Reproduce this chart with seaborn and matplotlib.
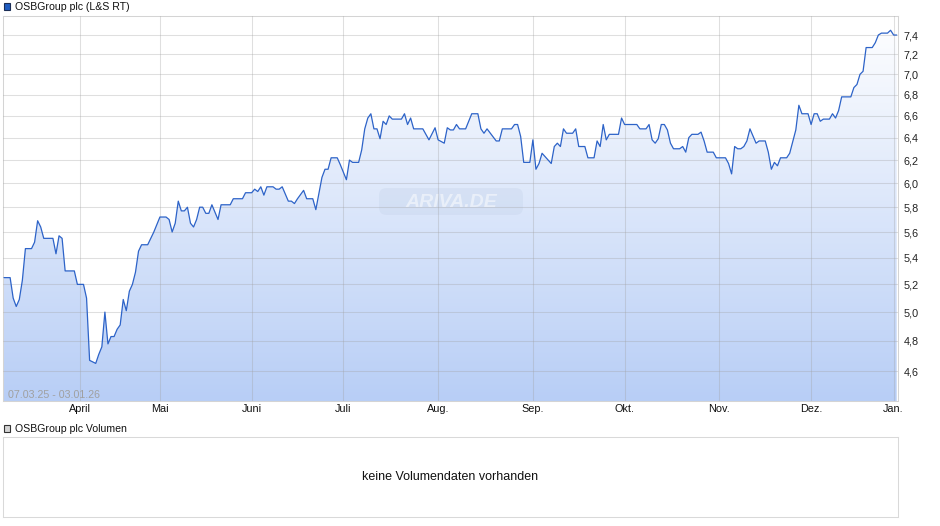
import numpy as np
import pandas as pd
import matplotlib
matplotlib.use('Agg')
import matplotlib.pyplot as plt
from matplotlib.colors import LinearSegmentedColormap
from matplotlib.patches import Rectangle, FancyBboxPatch
from matplotlib.ticker import NullLocator
import seaborn as sns

# Kursverlauf OSBGroup plc (L&S RT)
dates = [
    '2025-03-07', '2025-03-09', '2025-03-10', '2025-03-11', '2025-03-12', '2025-03-13', '2025-03-14',
    '2025-03-16', '2025-03-17', '2025-03-18', '2025-03-19', '2025-03-20', '2025-03-23', '2025-03-24',
    '2025-03-25', '2025-03-26', '2025-03-27', '2025-03-30', '2025-03-31',
    '2025-04-02', '2025-04-03', '2025-04-04', '2025-04-05', '2025-04-06', '2025-04-07', '2025-04-08',
    '2025-04-09', '2025-04-10', '2025-04-11', '2025-04-12', '2025-04-13', '2025-04-14', '2025-04-15',
    '2025-04-16', '2025-04-17', '2025-04-22', '2025-04-23', '2025-04-24', '2025-04-25', '2025-04-27',
    '2025-04-28', '2025-04-29', '2025-04-30',
    '2025-05-02', '2025-05-04', '2025-05-05', '2025-05-06', '2025-05-07', '2025-05-08', '2025-05-09',
    '2025-05-10', '2025-05-11', '2025-05-12', '2025-05-13', '2025-05-14', '2025-05-15', '2025-05-16',
    '2025-05-17', '2025-05-18', '2025-05-19', '2025-05-20', '2025-05-21', '2025-05-22', '2025-05-25',
    '2025-05-26', '2025-05-29', '2025-05-30',
    '2025-06-01', '2025-06-02', '2025-06-03', '2025-06-04', '2025-06-05', '2025-06-06', '2025-06-08',
    '2025-06-09', '2025-06-10', '2025-06-11', '2025-06-13', '2025-06-14', '2025-06-15', '2025-06-16',
    '2025-06-18', '2025-06-19', '2025-06-21', '2025-06-22', '2025-06-24', '2025-06-25', '2025-06-26',
    '2025-06-27', '2025-06-29', '2025-06-30',
    '2025-07-02', '2025-07-03', '2025-07-04', '2025-07-06', '2025-07-07', '2025-07-08', '2025-07-09',
    '2025-07-10', '2025-07-11', '2025-07-12', '2025-07-13', '2025-07-14', '2025-07-15', '2025-07-16',
    '2025-07-17', '2025-07-20', '2025-07-21', '2025-07-22', '2025-07-23', '2025-07-24', '2025-07-27',
    '2025-07-29', '2025-07-31',
    '2025-08-01', '2025-08-03', '2025-08-04', '2025-08-05', '2025-08-06', '2025-08-07', '2025-08-08',
    '2025-08-10', '2025-08-12', '2025-08-14', '2025-08-15', '2025-08-16', '2025-08-17', '2025-08-20',
    '2025-08-21', '2025-08-22', '2025-08-25', '2025-08-26', '2025-08-27', '2025-08-28', '2025-08-29',
    '2025-08-31',
    '2025-09-01', '2025-09-02', '2025-09-03', '2025-09-04', '2025-09-07', '2025-09-08', '2025-09-09',
    '2025-09-10', '2025-09-11', '2025-09-12', '2025-09-14', '2025-09-15', '2025-09-16', '2025-09-18',
    '2025-09-19', '2025-09-21', '2025-09-22', '2025-09-23', '2025-09-24', '2025-09-25', '2025-09-26',
    '2025-09-29', '2025-09-30',
    '2025-10-01', '2025-10-05', '2025-10-06', '2025-10-08', '2025-10-09', '2025-10-10', '2025-10-11',
    '2025-10-12', '2025-10-13', '2025-10-14', '2025-10-15', '2025-10-16', '2025-10-17', '2025-10-19',
    '2025-10-20', '2025-10-21', '2025-10-22', '2025-10-23', '2025-10-25', '2025-10-26', '2025-10-27',
    '2025-10-28', '2025-10-30', '2025-10-31',
    '2025-11-03', '2025-11-04', '2025-11-05', '2025-11-06', '2025-11-07', '2025-11-08', '2025-11-09',
    '2025-11-10', '2025-11-11', '2025-11-13', '2025-11-14', '2025-11-16', '2025-11-17', '2025-11-18',
    '2025-11-19', '2025-11-20', '2025-11-21', '2025-11-23', '2025-11-24', '2025-11-26', '2025-11-27',
    '2025-11-28', '2025-11-30',
    '2025-12-01', '2025-12-02', '2025-12-03', '2025-12-04', '2025-12-05', '2025-12-07', '2025-12-08',
    '2025-12-09', '2025-12-10', '2025-12-11', '2025-12-14', '2025-12-15', '2025-12-16', '2025-12-17',
    '2025-12-18', '2025-12-19', '2025-12-21', '2025-12-22', '2025-12-23', '2025-12-27', '2025-12-29',
    '2025-12-30',
    '2026-01-02', '2026-01-03',
]
prices = [
    5.25, 5.25, 5.10, 5.04, 5.09, 5.23, 5.47,
    5.47, 5.52, 5.69, 5.64, 5.55, 5.55, 5.43,
    5.57, 5.55, 5.30, 5.30, 5.20,
    5.20, 5.10, 4.67, 4.66, 4.65, 4.71, 4.76,
    5.00, 4.78, 4.83, 4.83, 4.88, 4.91, 5.09,
    5.01, 5.15, 5.20, 5.29, 5.45, 5.50, 5.50,
    5.55, 5.60, 5.66,
    5.72, 5.72, 5.70, 5.60, 5.67, 5.85, 5.77,
    5.77, 5.80, 5.67, 5.64, 5.70, 5.80, 5.80,
    5.75, 5.75, 5.82, 5.76, 5.70, 5.82, 5.82,
    5.87, 5.87, 5.92,
    5.92, 5.95, 5.93, 5.97, 5.90, 5.97, 5.97,
    5.95, 5.95, 5.97, 5.85, 5.85, 5.83, 5.87,
    5.94, 5.87, 5.87, 5.78, 6.05, 6.12, 6.12,
    6.22, 6.22, 6.16,
    6.03, 6.20, 6.18, 6.18, 6.29, 6.48, 6.58,
    6.62, 6.48, 6.48, 6.39, 6.55, 6.52, 6.60,
    6.57, 6.57, 6.62, 6.52, 6.58, 6.48, 6.48,
    6.38, 6.49,
    6.38, 6.35, 6.49, 6.47, 6.47, 6.52, 6.48,
    6.48, 6.62, 6.62, 6.48, 6.44, 6.48, 6.37,
    6.37, 6.48, 6.48, 6.52, 6.52, 6.41, 6.18,
    6.18,
    6.38, 6.12, 6.17, 6.26, 6.17, 6.32, 6.35,
    6.32, 6.48, 6.44, 6.44, 6.48, 6.32, 6.32,
    6.22, 6.22, 6.37, 6.32, 6.52, 6.38, 6.43,
    6.43, 6.58,
    6.52, 6.52, 6.48, 6.48, 6.52, 6.38, 6.35,
    6.39, 6.52, 6.52, 6.47, 6.35, 6.30, 6.30,
    6.32, 6.27, 6.40, 6.43, 6.43, 6.45, 6.37,
    6.27, 6.27, 6.22,
    6.22, 6.17, 6.08, 6.32, 6.30, 6.30, 6.32,
    6.37, 6.48, 6.35, 6.37, 6.37, 6.27, 6.12,
    6.18, 6.15, 6.22, 6.22, 6.26, 6.47, 6.70,
    6.62, 6.62,
    6.52, 6.62, 6.62, 6.55, 6.57, 6.57, 6.62,
    6.58, 6.65, 6.78, 6.78, 6.87, 6.90, 7.00,
    7.03, 7.27, 7.27, 7.32, 7.40, 7.42, 7.42,
    7.45,
    7.40, 7.40,
]

# Tage ohne Handel (werden auf der Zeitachse ausgelassen)
closed_days = ['2025-04-18', '2025-04-19', '2025-04-20', '2025-04-21', '2025-05-01',
               '2025-12-24', '2025-12-25', '2025-12-26', '2025-12-31', '2026-01-01']

month_starts = ['2025-04-01', '2025-05-01', '2025-06-01', '2025-07-01', '2025-08-01',
                '2025-09-01', '2025-10-01', '2025-11-01', '2025-12-01', '2026-01-01']
month_labels = ['April', 'Mai', 'Juni', 'Juli', 'Aug.', 'Sep.', 'Okt.', 'Nov.', 'Dez.', 'Jan.']
price_ticks = [4.6, 4.8, 5.0, 5.2, 5.4, 5.6, 5.8, 6.0, 6.2, 6.4, 6.6, 6.8, 7.0, 7.2, 7.4]

sns.set_theme(style='white')
plt.rcParams['font.family'] = ['Liberation Sans', 'DejaVu Sans']

df = pd.DataFrame({'Datum': pd.to_datetime(dates), 'Kurs': prices})
sessions = pd.date_range(dates[0], dates[-1], freq='D').difference(pd.to_datetime(closed_days))
df['pos'] = sessions.get_indexer(df['Datum'])
tick_pos = sessions.searchsorted(pd.to_datetime(month_starts))

W, H = 940, 526


def box(l, t, r, b):
    return [l / W, 1 - b / H, (r - l) / W, (b - t) / H]


fig = plt.figure(figsize=(W / 100, H / 100), dpi=100)
ax = fig.add_axes(box(3, 16, 897.7, 401))
ax.set_yscale('log')
xlim = (-0.33, len(sessions) - 1 + 0.33)
ylim = (4.409, 7.602)
ax.set_xlim(xlim)
ax.set_ylim(ylim)

# Flaeche mit Verlauf unter der Kurslinie
poly = ax.fill_between(df['pos'], df['Kurs'], 4.0, color='none', linewidth=0)
grad = np.linspace(0, 1, 256).reshape(-1, 1)
cmap = LinearSegmentedColormap.from_list('ariva', ['#b8cef6', '#ffffff'])
im = ax.imshow(grad, cmap=cmap, origin='lower', extent=[0, 1, 0, 1],
               transform=ax.transAxes, aspect='auto', zorder=1)
im.set_clip_path(poly.get_paths()[0], transform=ax.transData)

sns.lineplot(data=df, x='pos', y='Kurs', ax=ax, color='#2d63c8', linewidth=0.9, zorder=3)

ax.set_xlim(xlim)
ax.set_ylim(ylim)
ax.set_xlabel('')
ax.set_ylabel('')

ax.yaxis.tick_right()
ax.set_yticks(price_ticks)
ax.set_yticklabels([f'{v:.1f}'.replace('.', ',') for v in price_ticks])
ax.yaxis.set_minor_locator(NullLocator())
ax.set_xticks(tick_pos)
ax.set_xticklabels(month_labels)
ax.tick_params(axis='y', length=0, pad=4, labelsize=7.8, labelcolor='#222222')
ax.tick_params(axis='x', length=0, pad=2.5, labelsize=7.8, labelcolor='#111111')

ax.set_axisbelow(False)
ax.grid(True, which='major', color='#a0a0a0', alpha=0.33, linewidth=0.75, zorder=2)
for s in ax.spines.values():
    s.set_color('#d4d4d4')
    s.set_linewidth(0.75)

# Wasserzeichen
ax.add_patch(FancyBboxPatch((379 / W, 1 - 215 / H), 144 / W, 27 / H,
                            boxstyle='round,pad=0,rounding_size=0.008', mutation_aspect=W / H,
                            transform=fig.transFigure, facecolor='#c3d2ea', edgecolor='none',
                            alpha=0.32, zorder=2.2))
ax.text(451 / W, 1 - 202 / H, 'ARIVA.DE', transform=fig.transFigure, ha='center', va='center',
        fontsize=14, fontweight='bold', fontstyle='italic', color='white', alpha=0.5, zorder=2.3)

fig.text(8 / W, 1 - 398 / H, '07.03.25 - 03.01.26', fontsize=7.7, color='#a0a0a0', va='baseline')

# Legende oben
fig.add_artist(Rectangle((3.5 / W, 1 - 9.5 / H), 6.5 / W, 6.5 / H, transform=fig.transFigure,
                         facecolor='#1f5cc0', edgecolor='#1b2d55', linewidth=0.8))
fig.text(15 / W, 1 - 10 / H, 'OSBGroup plc (L&S RT)', fontsize=7.6, color='#111111', va='baseline')

# Volumen-Bereich
fig.add_artist(Rectangle((3.5 / W, 1 - 431.5 / H), 6.5 / W, 6.5 / H, transform=fig.transFigure,
                         facecolor='#d4d4d4', edgecolor='#333333', linewidth=0.8))
fig.text(15 / W, 1 - 432 / H, 'OSBGroup plc Volumen', fontsize=7.6, color='#111111', va='baseline')

ax2 = fig.add_axes(box(3, 437, 898, 517))
ax2.set_xticks([])
ax2.set_yticks([])
for s in ax2.spines.values():
    s.set_color('#d9d9d9')
    s.set_linewidth(0.75)
ax2.text(0.5, 0.5, 'keine Volumendaten vorhanden', transform=ax2.transAxes,
         ha='center', va='center', fontsize=9, color='#111111')

fig.savefig('out.png', dpi=100)
